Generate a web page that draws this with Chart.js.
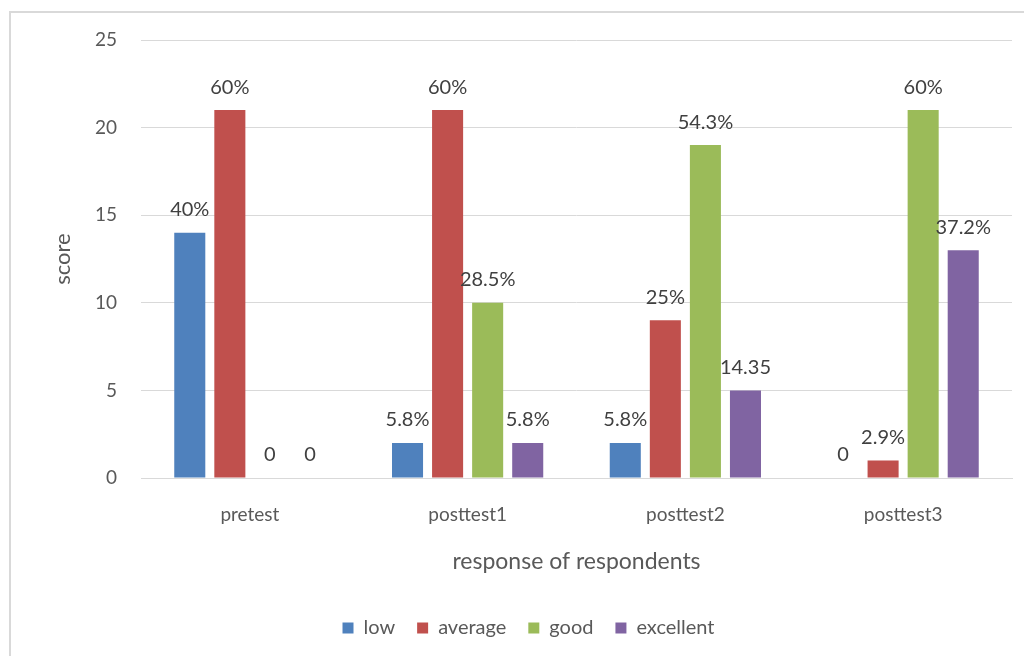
<!DOCTYPE html>
<html>
<head>
<meta charset="utf-8">
<script src="https://cdn.jsdelivr.net/npm/chart.js@4"></script>
<style>
  html, body { margin: 0; padding: 0; background: #fff; overflow: hidden; }
  #wrap { position: relative; width: 1024px; height: 656px; }
  #frame { position: absolute; left: 9px; top: 11px; width: 1100px; height: 700px; border: 2px solid #d9d9d9; pointer-events: none; }
</style>
</head>
<body>
<div id="wrap">
  <canvas id="chart" width="1024" height="656"></canvas>
  <div id="frame"></div>
</div>
<script>
const categories = ['pretest', 'posttest1', 'posttest2', 'posttest3'];
const low = [14, 2, 2, 0];
const average = [21, 21, 9, 1];
const good = [0, 10, 19, 21];
const excellent = [0, 2, 5, 13];
const lowLabels = ['40%', '5.8%', '5.8%', '0'];
const averageLabels = ['60%', '60%', '25%', '2.9%'];
const goodLabels = ['0', '28.5%', '54.3%', '60%'];
const excellentLabels = ['0', '5.8%', '14.35', '37.2%'];
const yTicks = [0, 5, 10, 15, 20, 25];

const FONT = 'Lato';
const textColor = '#595959';

// draws the percentage labels above each bar
const barLabels = {
  id: 'barLabels',
  afterDatasetsDraw(chart) {
    const ctx = chart.ctx;
    ctx.save();
    ctx.font = '20px ' + FONT;
    ctx.fillStyle = '#404040';
    ctx.textAlign = 'center';
    ctx.textBaseline = 'middle';
    chart.data.datasets.forEach((ds, i) => {
      chart.getDatasetMeta(i).data.forEach((bar, j) => {
        ctx.fillText(ds.valueLabels[j], bar.x, bar.y - 23);
      });
    });
    ctx.restore();
  }
};

new Chart(document.getElementById('chart').getContext('2d'), {
  type: 'bar',
  data: {
    labels: categories,
    datasets: [
      { label: 'low', data: low, valueLabels: lowLabels, backgroundColor: '#4F81BD' },
      { label: 'average', data: average, valueLabels: averageLabels, backgroundColor: '#C0504D' },
      { label: 'good', data: good, valueLabels: goodLabels, backgroundColor: '#9BBB59' },
      { label: 'excellent', data: excellent, valueLabels: excellentLabels, backgroundColor: '#8064A2' }
    ]
  },
  options: {
    responsive: false,
    animation: false,
    categoryPercentage: 0.736,
    barPercentage: 0.775,
    layout: { padding: { left: 45, right: 12, top: 40, bottom: 8 } },
    plugins: {
      tooltip: { enabled: false },
      legend: {
        position: 'bottom',
        labels: {
          boxWidth: 11,
          boxHeight: 11,
          padding: 22,
          color: textColor,
          font: { family: FONT, size: 20 }
        }
      }
    },
    scales: {
      x: {
        afterFit: (s) => { s.height = 118; },
        grid: { display: false, drawTicks: false },
        border: { color: '#d9d9d9', width: 1 },
        ticks: { padding: 25, color: textColor, font: { family: FONT, size: 19 } },
        title: {
          display: true,
          text: 'response of respondents',
          color: textColor,
          font: { family: FONT, size: 23 },
          padding: { top: 0, bottom: 21 }
        }
      },
      y: {
        min: 0,
        max: 25,
        afterFit: (s) => { s.width = 96; },
        afterBuildTicks: (s) => { s.ticks = yTicks.map(v => ({ value: v })); },
        grid: { color: '#d9d9d9', drawTicks: false },
        border: { display: false },
        ticks: { padding: 24, color: textColor, font: { family: FONT, size: 19 } },
        title: {
          display: true,
          text: 'score',
          color: textColor,
          font: { family: FONT, size: 22 },
          padding: { top: 5, bottom: 0 }
        }
      }
    }
  },
  plugins: [barLabels]
});
</script>
</body>
</html>
